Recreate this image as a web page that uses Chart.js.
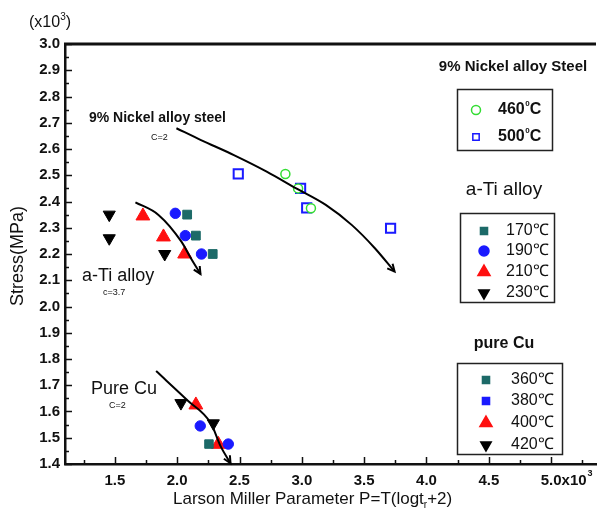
<!DOCTYPE html>
<html>
<head>
<meta charset="utf-8">
<script src="https://cdn.jsdelivr.net/npm/chart.js@4/dist/chart.umd.min.js"></script>
<style>
  html, body { margin: 0; padding: 0; background: #fff; }
</style>
</head>
<body>
<canvas id="chart" width="605" height="515"></canvas>
<script>
// axis ticks
const xTicks = [1.5, 2.0, 2.5, 3.0, 3.5, 4.0, 4.5, 5.0];
const xTickLabels = ['1.5', '2.0', '2.5', '3.0', '3.5', '4.0', '4.5', '5.0x10'];
const yTicks = [1.4, 1.5, 1.6, 1.7, 1.8, 1.9, 2.0, 2.1, 2.2, 2.3, 2.4, 2.5, 2.6, 2.7, 2.8, 2.9, 3.0];
const yTickLabels = ['1.4', '1.5', '1.6', '1.7', '1.8', '1.9', '2.0', '2.1', '2.2', '2.3', '2.4', '2.5', '2.6', '2.7', '2.8', '2.9', '3.0'];

// 9% Nickel alloy steel  [P (x10^3), stress (x10^3 MPa)]
const ni460 = [[2.868, 2.505], [2.97, 2.45], [3.073, 2.374]];
const ni500 = [[2.49, 2.505], [2.99, 2.45], [3.039, 2.376], [3.712, 2.298]];

// a-Ti alloy
const ti170 = [[2.08, 2.35], [2.15, 2.27], [2.285, 2.20]];
const ti190 = [[1.985, 2.355], [2.065, 2.27], [2.195, 2.20]];
const ti210 = [[1.725, 2.345], [1.89, 2.265], [2.06, 2.20]];
const ti230 = [[1.455, 2.35], [1.455, 2.26], [1.90, 2.20]];

// pure Cu
const cu360 = [[2.255, 1.476]];
const cu380 = [[2.185, 1.545], [2.41, 1.476]];
const cu400 = [[2.15, 1.625], [2.33, 1.475]];
const cu420 = [[2.03, 1.632], [2.29, 1.555]];

// master curves
const niFit = [[1.994, 2.679], [2.191, 2.634], [2.455, 2.577], [2.718, 2.514], [2.955, 2.45],
               [3.192, 2.387], [3.402, 2.31], [3.586, 2.222], [3.744, 2.133]];
const tiFit = [[1.665, 2.397], [1.85, 2.349], [2.034, 2.247], [2.11, 2.184], [2.187, 2.124]];
const cuFit = [[1.831, 1.754], [2.086, 1.641], [2.27, 1.555], [2.35, 1.466], [2.428, 1.403]];

const FONT = "'Liberation Sans', Arial, sans-serif";
const TEAL = '#1c6a68';
const BLUE = '#1a1aff';
const RED = '#ff1010';
const GREEN = '#33dd33';

const pts = arr => arr.map(([x, y]) => ({ x, y }));

function curve(arr) {
  return {
    data: pts(arr), showLine: true, borderColor: '#000', borderWidth: 2,
    pointRadius: 0, cubicInterpolationMode: 'monotone', fill: false, isCurve: true
  };
}

function marks(arr, style, color, radius, extra) {
  return Object.assign({
    data: pts(arr), pointStyle: style, pointRadius: radius,
    backgroundColor: color, borderColor: color, borderWidth: 1, rotation: 0
  }, extra || {});
}

const datasets = [
  curve(niFit), curve(tiFit), curve(cuFit),
  marks(ni460, 'circle', GREEN, 4.5, { backgroundColor: '#fff', borderWidth: 1.5 }),
  marks(ni500, 'rect', BLUE, 6.5, { backgroundColor: '#fff', borderWidth: 2 }),
  marks(ti170, 'rect', TEAL, 6.2),
  marks(ti190, 'circle', BLUE, 5.2),
  marks(ti210, 'triangle', RED, 8),
  marks(ti230, 'triangle', '#000', 7, { rotation: 180 }),
  marks(cu360, 'rect', TEAL, 6),
  marks(cu380, 'circle', BLUE, 5.2),
  marks(cu400, 'triangle', RED, 8),
  marks(cu420, 'triangle', '#000', 7, { rotation: 180 })
];

// legend boxes: title, frame, entries
const legendGroups = [
  { title: '9% Nickel alloy Steel', titleFont: 'bold 15px ' + FONT, tx: 513, ty: 67,
    box: [457, 89, 95, 61], font: 'bold 16px ' + FONT, mx: 476, lx: 498,
    items: [{ ds: 3, text: '460', deg: true, y: 110 }, { ds: 4, text: '500', deg: true, y: 137, r: 4.5 }] },
  { title: 'a-Ti alloy', titleFont: '19px ' + FONT, tx: 504, ty: 190,
    box: [460, 213, 94, 89], font: '16px ' + FONT, mx: 484, lx: 506,
    items: [{ ds: 5, text: '170℃', y: 231, r: 5 }, { ds: 6, text: '190℃', y: 251, r: 5 },
            { ds: 7, text: '210℃', y: 272, r: 7 }, { ds: 8, text: '230℃', y: 293, r: 6 }] },
  { title: 'pure Cu', titleFont: 'bold 16px ' + FONT, tx: 504, ty: 344,
    box: [457, 363, 105, 91], font: '16px ' + FONT, mx: 486, lx: 511,
    items: [{ ds: 9, text: '360℃', y: 380, r: 5 }, { ds: 10, text: '380℃', y: 401, r: 5, style: 'rect' },
            { ds: 11, text: '400℃', y: 423, r: 7 }, { ds: 12, text: '420℃', y: 445, r: 6 }] }
];

function superText(ctx, parts, x, y, size, align) {
  // parts: [text, 0 normal | 1 superscript | 2 subscript]
  ctx.textBaseline = 'alphabetic';
  let total = 0;
  const widths = parts.map(([t, sup]) => {
    ctx.font = (sup ? Math.round(size * 0.6) : size) + 'px ' + FONT;
    const w = ctx.measureText(t).width;
    total += w;
    return w;
  });
  let cx = align === 'center' ? x - total / 2 : x;
  ctx.textAlign = 'left';
  parts.forEach(([t, sup], i) => {
    ctx.font = (sup ? Math.round(size * 0.6) : size) + 'px ' + FONT;
    ctx.fillText(t, cx, sup === 1 ? y - size * 0.45 : sup === 2 ? y + size * 0.25 : y);
    cx += widths[i];
  });
}

const overlay = {
  id: 'overlay',
  afterDraw(chart) {
    const { ctx, chartArea: a, scales: { x, y } } = chart;
    ctx.save();
    ctx.strokeStyle = '#111';
    ctx.fillStyle = '#111';

    // top frame line
    ctx.lineWidth = 3;
    ctx.beginPath();
    ctx.moveTo(a.left - 1, a.top);
    ctx.lineTo(a.right, a.top);
    ctx.stroke();

    // inward ticks
    ctx.lineWidth = 1.5;
    ctx.beginPath();
    yTicks.forEach((v, i) => {
      const py = Math.round(y.getPixelForValue(v)) + 0.5;
      ctx.moveTo(a.left, py); ctx.lineTo(a.left + 7, py);
      if (i < yTicks.length - 1) {
        const pm = Math.round(y.getPixelForValue((v + yTicks[i + 1]) / 2)) + 0.5;
        ctx.moveTo(a.left, pm); ctx.lineTo(a.left + 4, pm);
      }
    });
    const xMinor = [xTicks[0] - 0.25].concat(xTicks.map(v => v + 0.25));
    xTicks.forEach(v => {
      const px = Math.round(x.getPixelForValue(v)) + 0.5;
      ctx.moveTo(px, a.bottom); ctx.lineTo(px, a.bottom - 7);
    });
    xMinor.forEach(v => {
      const px = Math.round(x.getPixelForValue(v)) + 0.5;
      ctx.moveTo(px, a.bottom); ctx.lineTo(px, a.bottom - 4);
    });
    ctx.stroke();

    // tick labels
    const tickFont = 'bold 15px ' + FONT;
    ctx.font = tickFont;
    ctx.textAlign = 'right';
    ctx.textBaseline = 'middle';
    yTicks.forEach((v, i) => ctx.fillText(yTickLabels[i], a.left - 5, y.getPixelForValue(v)));
    ctx.textAlign = 'center';
    xTicks.forEach((v, i) => {
      const px = x.getPixelForValue(v);
      if (i === xTicks.length - 1) {
        const w = ctx.measureText('5.0').width;
        ctx.textAlign = 'left';
        ctx.fillText(xTickLabels[i], px - w / 2, 481);
        const wl = ctx.measureText(xTickLabels[i]).width;
        ctx.font = 'bold 9px ' + FONT;
        ctx.fillText('3', px - w / 2 + wl + 1, 474);
        ctx.font = tickFont;
      } else {
        ctx.fillText(xTickLabels[i], px, 481);
      }
    });

    // axis titles
    superText(ctx, [['Larson Miller Parameter P=T(logt', 0], ['r', 2], ['+2)', 0]], 173, 504, 17, 'left');
    superText(ctx, [['(x10', 0], ['3', 1], [')', 0]], 29, 27, 16, 'left');
    ctx.save();
    ctx.translate(23, 256);
    ctx.rotate(-Math.PI / 2);
    ctx.font = '18px ' + FONT;
    ctx.textAlign = 'center';
    ctx.textBaseline = 'alphabetic';
    ctx.fillText('Stress(MPa)', 0, 0);
    ctx.restore();

    // curve labels
    ctx.textAlign = 'left';
    ctx.textBaseline = 'alphabetic';
    ctx.font = 'bold 14px ' + FONT;
    ctx.fillText('9% Nickel alloy steel', 89, 122);
    ctx.font = '9px ' + FONT;
    ctx.fillText('C=2', 151, 140);
    ctx.font = '18px ' + FONT;
    ctx.fillText('a-Ti alloy', 82, 281);
    ctx.font = '9px ' + FONT;
    ctx.fillText('c=3.7', 103, 295);
    ctx.font = '18px ' + FONT;
    ctx.fillText('Pure Cu', 91, 394);
    ctx.font = '9px ' + FONT;
    ctx.fillText('C=2', 109, 408);

    // arrowheads at the end of each master curve
    ctx.lineWidth = 2;
    ctx.strokeStyle = '#000';
    chart.data.datasets.forEach((ds, i) => {
      if (!ds.isCurve) return;
      const el = chart.getDatasetMeta(i).data;
      const p1 = el[el.length - 2], p2 = el[el.length - 1];
      const ang = Math.atan2(p2.y - p1.y, p2.x - p1.x);
      ctx.beginPath();
      ctx.moveTo(p2.x - 8 * Math.cos(ang - 0.45), p2.y - 8 * Math.sin(ang - 0.45));
      ctx.lineTo(p2.x, p2.y);
      ctx.lineTo(p2.x - 8 * Math.cos(ang + 0.45), p2.y - 8 * Math.sin(ang + 0.45));
      ctx.stroke();
    });

    // legend groups
    legendGroups.forEach(g => {
      ctx.fillStyle = '#111';
      ctx.font = g.titleFont;
      ctx.textAlign = 'center';
      ctx.textBaseline = 'middle';
      ctx.fillText(g.title, g.tx, g.ty);
      ctx.strokeStyle = '#222';
      ctx.lineWidth = 1.5;
      ctx.strokeRect(g.box[0] + 0.5, g.box[1] + 0.5, g.box[2], g.box[3]);
      g.items.forEach(it => {
        const ds = chart.data.datasets[it.ds];
        ctx.fillStyle = ds.backgroundColor;
        ctx.strokeStyle = ds.borderColor;
        Chart.helpers.drawPoint(ctx, {
          pointStyle: it.style || ds.pointStyle, rotation: ds.rotation,
          radius: it.r || ds.pointRadius, borderWidth: ds.borderWidth
        }, g.mx, it.y);
        ctx.fillStyle = '#111';
        ctx.font = g.font;
        ctx.textAlign = 'left';
        ctx.textBaseline = 'middle';
        if (it.deg) {
          const w = ctx.measureText(it.text).width;
          ctx.fillText(it.text, g.lx, it.y);
          ctx.font = 'bold 8px ' + FONT;
          ctx.fillText('0', g.lx + w + 0.5, it.y - 6);
          ctx.font = g.font;
          ctx.fillText('C', g.lx + w + 5, it.y);
        } else {
          ctx.fillText(it.text, g.lx, it.y);
        }
      });
    });
    ctx.restore();
  }
};

new Chart(document.getElementById('chart'), {
  type: 'scatter',
  data: { datasets },
  options: {
    responsive: false,
    animation: false,
    layout: { padding: { left: 65, top: 44, right: 0, bottom: 51 } },
    plugins: { legend: { display: false }, tooltip: { enabled: false } },
    scales: {
      x: {
        type: 'linear', min: 1.1, max: 5.36,
        grid: { display: false, drawTicks: false },
        border: { color: '#111', width: 2.5 },
        ticks: { display: false },
        afterFit(s) { s.height = 0; }
      },
      y: {
        type: 'linear', min: 1.4, max: 3.0,
        grid: { display: false, drawTicks: false },
        border: { color: '#111', width: 2.5 },
        ticks: { display: false },
        afterFit(s) { s.width = 0; }
      }
    }
  },
  plugins: [overlay]
});
</script>
</body>
</html>
